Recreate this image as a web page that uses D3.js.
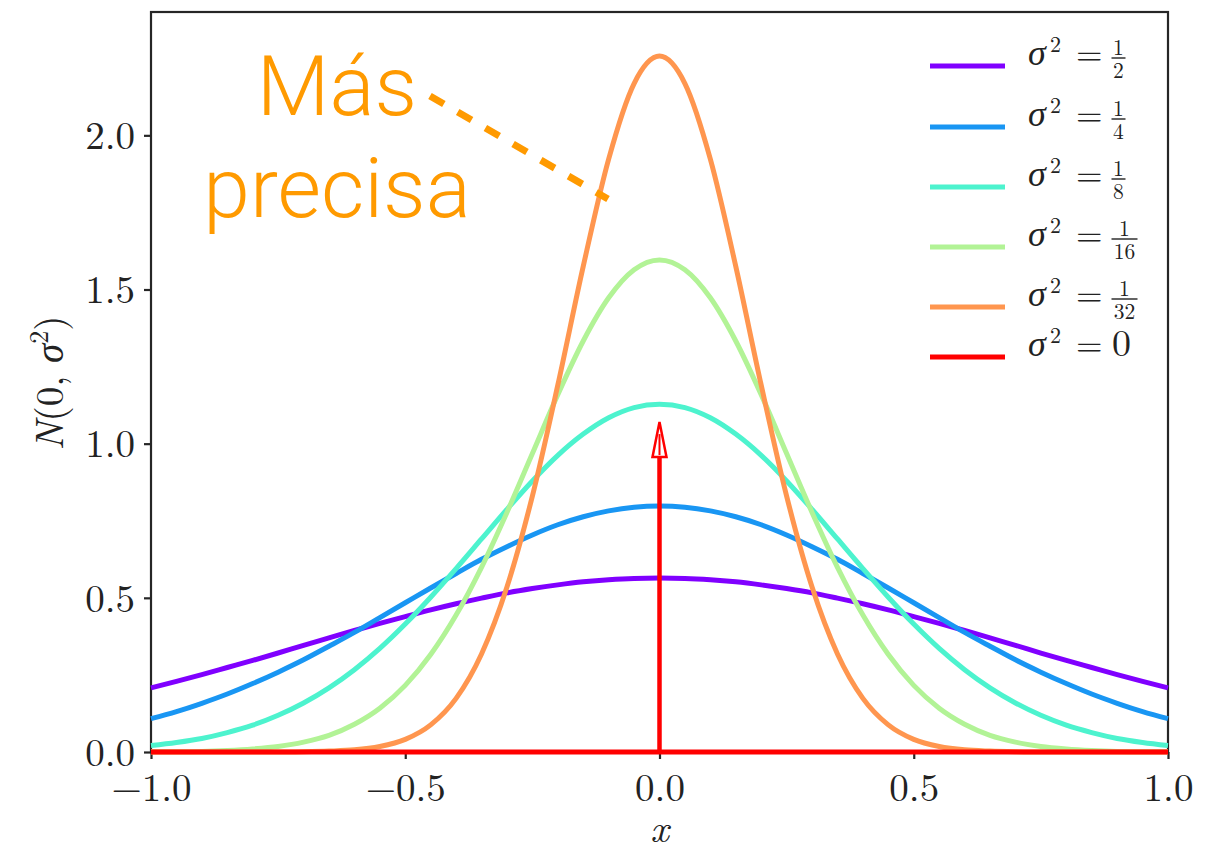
<!DOCTYPE html>
<html lang="es">
<head>
<meta charset="utf-8">
<title>Normal densities, decreasing variance</title>
<script src="https://cdn.jsdelivr.net/npm/d3@7"></script>
<style>
  body { margin: 0; background: #fff; }
  .axis path, .axis line { stroke: #262626; stroke-width: 2.2; }
  .axis text { font-family: "Latin Modern Roman", "CMU Serif", "Liberation Serif", serif; font-size: 39px; fill: #222; }
  .math { font-family: "Latin Modern Roman", "CMU Serif", "Liberation Serif", serif; fill: #222; }
</style>
</head>
<body>
<script>
var xs = [-1, -0.95, -0.9, -0.85, -0.8, -0.75, -0.7, -0.65, -0.6, -0.55, -0.5, -0.45, -0.4, -0.35, -0.3, -0.25, -0.2, -0.15, -0.1, -0.05,
  0, 0.05, 0.1, 0.15, 0.2, 0.25, 0.3, 0.35, 0.4, 0.45, 0.5, 0.55, 0.6, 0.65, 0.7, 0.75, 0.8, 0.85, 0.9, 0.95, 1];

// curve heights, one array per variance
var varHalf = [0.208, 0.229, 0.251, 0.274, 0.297, 0.321, 0.346, 0.370, 0.394, 0.417, 0.439, 0.461, 0.481, 0.499, 0.516, 0.530, 0.542, 0.552, 0.559, 0.563,
  0.564, 0.563, 0.559, 0.552, 0.542, 0.530, 0.516, 0.499, 0.481, 0.461, 0.439, 0.417, 0.394, 0.370, 0.346, 0.321, 0.297, 0.274, 0.251, 0.229, 0.208];
var varQuarter = [0.108, 0.131, 0.158, 0.188, 0.222, 0.259, 0.299, 0.343, 0.388, 0.436, 0.484, 0.532, 0.579, 0.625, 0.666, 0.704, 0.737, 0.763, 0.782, 0.794,
  0.798, 0.794, 0.782, 0.763, 0.737, 0.704, 0.666, 0.625, 0.579, 0.532, 0.484, 0.436, 0.388, 0.343, 0.299, 0.259, 0.222, 0.188, 0.158, 0.131, 0.108];
var varEighth = [0.021, 0.031, 0.044, 0.063, 0.087, 0.119, 0.159, 0.208, 0.267, 0.336, 0.415, 0.502, 0.595, 0.691, 0.787, 0.879, 0.962, 1.031, 1.084, 1.117,
  1.128, 1.117, 1.084, 1.031, 0.962, 0.879, 0.787, 0.691, 0.595, 0.502, 0.415, 0.336, 0.267, 0.208, 0.159, 0.119, 0.087, 0.063, 0.044, 0.031, 0.021];
var varSixteenth = [0.001, 0.001, 0.002, 0.005, 0.010, 0.018, 0.032, 0.054, 0.090, 0.142, 0.216, 0.316, 0.444, 0.599, 0.777, 0.968, 1.159, 1.333, 1.473, 1.564,
  1.596, 1.564, 1.473, 1.333, 1.159, 0.968, 0.777, 0.599, 0.444, 0.316, 0.216, 0.142, 0.090, 0.054, 0.032, 0.018, 0.010, 0.005, 0.002, 0.001, 0.001];
var varThirtySecond = [0, 0, 0, 0, 0, 0, 0.001, 0.003, 0.007, 0.018, 0.041, 0.088, 0.174, 0.318, 0.535, 0.830, 1.190, 1.575, 1.923, 2.168,
  2.257, 2.168, 1.923, 1.575, 1.190, 0.830, 0.535, 0.318, 0.174, 0.088, 0.041, 0.018, 0.007, 0.003, 0.001, 0, 0, 0, 0, 0, 0];
// sigma^2 = 0: flat at zero plus a spike (arrow) at x = 0
var varZero = xs.map(function () { return 0; });
var spikeX = 0, spikeTop = 1.07;

var curves = [varHalf, varQuarter, varEighth, varSixteenth, varThirtySecond];
var colors = ["#8000ff", "#1996f3", "#4df3ce", "#b2f396", "#ff964f", "#ff0000"];
var legendNum = ["1", "1", "1", "1", "1", null];
var legendDen = ["2", "4", "8", "16", "32", "0"];

var xTicks = [-1, -0.5, 0, 0.5, 1];
var yTicks = [0, 0.5, 1, 1.5, 2];

var w = 1206, h = 850;
var mLeft = 151, mRight = 1168, mTop = 12, mBottom = 752;

var svg = d3.select("body").append("svg")
  .attr("width", w)
  .attr("height", h);

var xScale = d3.scaleLinear().domain([-1, 1]).range([mLeft, mRight]);
var yScale = d3.scaleLinear().domain([0, 2.4]).range([mBottom, mTop]);

var fmt = function (d) { return d3.format(".1f")(d).replace("-", "\u2212"); };

// frame first, so the red zero line sits on top of the bottom spine
svg.append("rect")
  .attr("x", mLeft).attr("y", mTop)
  .attr("width", mRight - mLeft).attr("height", mBottom - mTop)
  .attr("fill", "none").attr("stroke", "#262626").attr("stroke-width", 2.2);

// axes
svg.append("g")
  .attr("class", "axis")
  .attr("transform", "translate(0," + mBottom + ")")
  .call(d3.axisBottom(xScale).tickValues(xTicks).tickFormat(fmt).tickSize(7).tickPadding(14))
  .call(function (g) { g.select(".domain").remove(); })
  .selectAll("text").attr("dy", "0.71em");

svg.append("g")
  .attr("class", "axis")
  .attr("transform", "translate(" + mLeft + ",0)")
  .call(d3.axisLeft(yScale).tickValues(yTicks).tickFormat(fmt).tickSize(7).tickPadding(9))
  .call(function (g) { g.select(".domain").remove(); })
  .selectAll("text").attr("dy", "0.34em");

// curves
var line = d3.line()
  .x(function (d, i) { return xScale(xs[i]); })
  .y(function (d) { return yScale(d); })
  .curve(d3.curveMonotoneX);

curves.forEach(function (c, k) {
  svg.append("path")
    .attr("d", line(c))
    .attr("fill", "none")
    .attr("stroke", colors[k])
    .attr("stroke-width", 5);
});

// the degenerate case: zero line and spike with arrow head
svg.append("path")
  .attr("d", line(varZero))
  .attr("fill", "none")
  .attr("stroke", colors[5])
  .attr("stroke-width", 5);

var sx = xScale(spikeX), sTop = yScale(spikeTop);
svg.append("line")
  .attr("x1", sx).attr("x2", sx)
  .attr("y1", yScale(0)).attr("y2", sTop + 30)
  .attr("stroke", colors[5]).attr("stroke-width", 4.5);
svg.append("path")
  .attr("d", "M" + sx + "," + sTop + "L" + (sx + 7) + "," + (sTop + 35) + "L" + (sx - 7) + "," + (sTop + 35) + "Z")
  .attr("fill", "#fff")
  .attr("stroke", colors[5])
  .attr("stroke-width", 2.5)
  .attr("stroke-linejoin", "miter");
svg.append("line")
  .attr("x1", sx).attr("x2", sx)
  .attr("y1", sTop + 12).attr("y2", sTop + 33)
  .attr("stroke", colors[5]).attr("stroke-width", 2);

// axis labels
svg.append("text")
  .attr("class", "math")
  .attr("x", xScale(0)).attr("y", 842)
  .attr("text-anchor", "middle")
  .attr("font-size", 40).attr("font-style", "italic")
  .text("x");

var yl = svg.append("text")
  .attr("class", "math")
  .attr("transform", "translate(63,383) rotate(-90)")
  .attr("text-anchor", "middle")
  .attr("font-size", 39);
yl.append("tspan").attr("font-style", "italic").text("N");
yl.append("tspan").text("(0, ");
yl.append("tspan").attr("font-style", "italic").text("\u03c3");
yl.append("tspan").attr("font-size", 26).attr("dy", -15).text("2");
yl.append("tspan").attr("dy", 15).text(")");

// legend
var legendY = [66, 127, 187, 247, 307, 357];
legendY.forEach(function (y, k) {
  var b = y - 1;
  svg.append("line")
    .attr("x1", 930).attr("x2", 1005)
    .attr("y1", y).attr("y2", y)
    .attr("stroke", colors[k]).attr("stroke-width", 5);
  svg.append("text").attr("class", "math")
    .attr("x", 1028).attr("y", b)
    .attr("font-size", 36).attr("font-style", "italic")
    .text("\u03c3");
  svg.append("text").attr("class", "math")
    .attr("x", 1050).attr("y", b - 13)
    .attr("font-size", 22)
    .text("2");
  svg.append("text").attr("class", "math")
    .attr("x", 1076).attr("y", b)
    .attr("font-size", 34)
    .text("=");
  if (legendNum[k] === null) {
    svg.append("text").attr("class", "math")
      .attr("x", 1112).attr("y", b)
      .attr("font-size", 38)
      .text(legendDen[k]);
  } else {
    var wide = legendDen[k].length > 1;
    var cx = wide ? 1124.5 : 1118.5;
    var half = wide ? 13 : 7;
    svg.append("text").attr("class", "math")
      .attr("x", cx).attr("y", b - 10)
      .attr("text-anchor", "middle").attr("font-size", 21.5)
      .text(legendNum[k]);
    svg.append("line")
      .attr("x1", cx - half).attr("x2", cx + half)
      .attr("y1", b - 7).attr("y2", b - 7)
      .attr("stroke", "#222").attr("stroke-width", 1.4);
    svg.append("text").attr("class", "math")
      .attr("x", cx).attr("y", b + 13)
      .attr("text-anchor", "middle").attr("font-size", 21.5)
      .text(legendDen[k]);
  }
});

// annotation
svg.append("line")
  .attr("x1", 430).attr("y1", 96)
  .attr("x2", 608).attr("y2", 199)
  .attr("stroke", "#ff9a00")
  .attr("stroke-width", 7)
  .attr("stroke-dasharray", "16 16");

var note = svg.append("text")
  .attr("font-family", "Roboto, 'Open Sans', sans-serif")
  .attr("font-weight", 300)
  .attr("font-size", 84)
  .attr("fill", "#ff9a00")
  .attr("text-anchor", "middle");
note.append("tspan").attr("x", 337).attr("y", 115).text("Más");
note.append("tspan").attr("x", 337).attr("y", 217).text("precisa");
</script>
</body>
</html>
